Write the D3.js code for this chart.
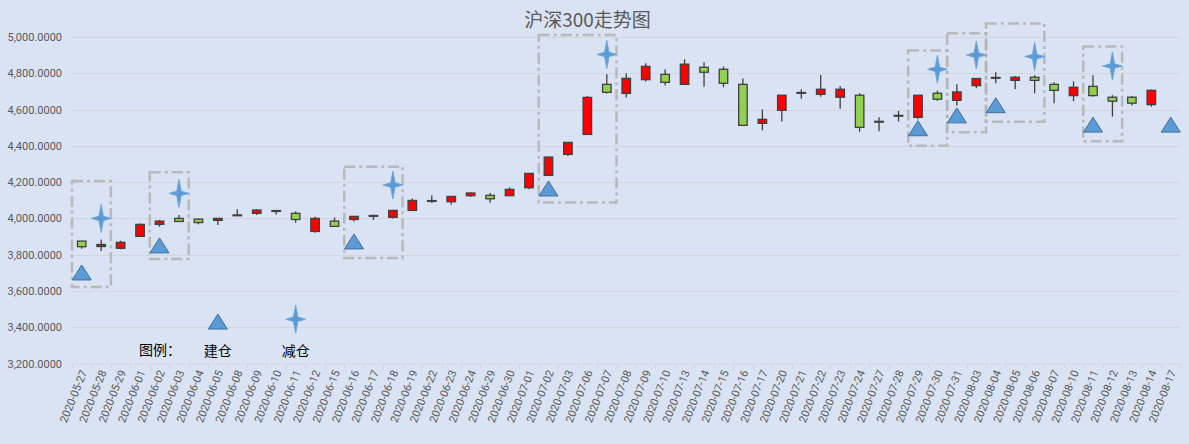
<!DOCTYPE html>
<html><head><meta charset="utf-8">
<script src="https://cdn.jsdelivr.net/npm/d3@7/dist/d3.min.js"></script>
<style>body{margin:0;background:#dae3f3;}svg{display:block}</style>
</head><body>
<svg id="chart" width="1189" height="444"></svg>
<script>
const title = "沪深300走势图";
const dates = ["2020-05-27","2020-05-28","2020-05-29","2020-06-01","2020-06-02","2020-06-03","2020-06-04","2020-06-05","2020-06-08","2020-06-09","2020-06-10","2020-06-11","2020-06-12","2020-06-15","2020-06-16","2020-06-17","2020-06-18","2020-06-19","2020-06-22","2020-06-23","2020-06-24","2020-06-29","2020-06-30","2020-07-01","2020-07-02","2020-07-03","2020-07-06","2020-07-07","2020-07-08","2020-07-09","2020-07-10","2020-07-13","2020-07-14","2020-07-15","2020-07-16","2020-07-17","2020-07-20","2020-07-21","2020-07-22","2020-07-23","2020-07-24","2020-07-27","2020-07-28","2020-07-29","2020-07-30","2020-07-31","2020-08-03","2020-08-04","2020-08-05","2020-08-06","2020-08-07","2020-08-10","2020-08-11","2020-08-12","2020-08-13","2020-08-14","2020-08-17"];
const openV  = [3875,3845,3835,3901,3967,4000,3996,3989,4016,4028,4043,4028,3928,3985,3994,4013,4006,4044,4095,4092,4125,4127,4125,4169,4237,4353,4463,4739,4689,4765,4794,4739,4833,4822,4739,4524,4596,4692,4684,4668,4679,4533,4566,4557,4690,4651,4732,4775,4761,4778,4739,4677,4728,4668,4668,4627,null];
const highV  = [3876,3884,3877,3972,3991,4018,4000,4002,4050,4050,4045,4039,4009,4005,4012,4016,4046,4110,4127,4122,4143,4140,4171,4250,4340,4420,4675,4794,4800,4855,4822,4877,4861,4837,4771,4601,4680,4712,4791,4730,4690,4557,4592,4680,4704,4739,4772,4805,4785,4789,4750,4756,4789,4679,4675,4710,null];
const lowV   = [3833,3820,3829,3900,3954,3982,3967,3963,4014,4018,4022,3976,3921,3954,3983,3991,4000,4043,4086,4077,4119,4086,4125,4160,4235,4344,4463,4689,4667,4754,4732,4739,4726,4723,4513,4486,4534,4660,4671,4605,4478,4480,4534,4546,4649,4623,4717,4745,4712,4690,4635,4646,4671,4561,4622,4616,null];
const closeV = [3844,3856,3868,3967,3985,3983,3977,4000,4019,4046,4040,3994,4000,3956,4011,4016,4044,4099,4098,4121,4140,4108,4160,4248,4338,4419,4667,4695,4772,4838,4750,4850,4806,4745,4513,4546,4679,4694,4712,4712,4502,4535,4568,4679,4657,4697,4771,4777,4778,4761,4706,4723,4677,4646,4635,4706,null];
const yTicks = [3200,3400,3600,3800,4000,4200,4400,4600,4800,5000];

// 建仓 markers (triangles) and 减仓 markers (stars): date + price level
const buyDates   = ["2020-05-27","2020-06-02","2020-06-16","2020-07-02","2020-07-29","2020-07-31","2020-08-04","2020-08-11","2020-08-17"];
const buyPrices  = [3702,3851,3873,4165,4497,4568,4624,4517,4517];
const sellDates  = ["2020-05-28","2020-06-03","2020-06-18","2020-07-07","2020-07-30","2020-08-03","2020-08-06","2020-08-12"];
const sellPrices = [4000,4138,4184,4904,4822,4901,4892,4840];

// highlighted ranges (dashed boxes)
const boxFrom = ["2020-05-27","2020-06-02","2020-06-16","2020-07-02","2020-07-29","2020-07-31","2020-08-04","2020-08-11"];
const boxTo   = ["2020-05-28","2020-06-03","2020-06-18","2020-07-07","2020-07-30","2020-08-03","2020-08-06","2020-08-12"];
const boxHigh = [4206,4254,4285,5011,4925,5020,5075,4947];
const boxLow  = [3622,3776,3782,4087,4401,4475,4533,4425];

// legend
const legendLabel = "图例：";
const legendBuy = {date:"2020-06-05", price:3431, text:"建仓"};
const legendSell = {date:"2020-06-11", price:3444, text:"减仓"};

const svg = d3.select("#chart");
const W = 1189, H = 444;
svg.append("rect").attr("width",W).attr("height",H).attr("fill","#dae3f3");

const x = d3.scaleBand().domain(dates).range([72, 1180.5]).padding(0);
const y = d3.scaleLinear().domain([3200,5000]).range([363.5, 37]);
const bw = x.bandwidth();
const cx = d => x(d) + bw/2;

// gridlines
svg.append("g").selectAll("line").data(yTicks.slice(1)).join("line")
  .attr("x1",72).attr("x2",1180.5)
  .attr("y1",d=>Math.round(y(d))+0.5).attr("y2",d=>Math.round(y(d))+0.5)
  .attr("stroke","#d3d6dc").attr("stroke-width",1);

// y axis labels
const yAxis = d3.axisLeft(y).tickValues(yTicks).tickFormat(d3.format(",.4f")).tickSize(0).tickPadding(10);
const gy = svg.append("g").attr("transform","translate(72,0)").call(yAxis);
gy.select(".domain").remove();
gy.selectAll("text").attr("font-family","Roboto, Lato, sans-serif").attr("font-size","11px").attr("fill","#595959");

// x axis
const xAxis = d3.axisBottom(x).tickSize(0).tickFormat(d=>d);
const gx = svg.append("g").attr("transform","translate(0,363.5)").call(xAxis);
gx.select(".domain").attr("stroke","#d3d6dc");
gx.selectAll("text")
  .attr("font-family","Roboto, Lato, sans-serif").attr("font-size","11px").attr("fill","#595959")
  .attr("text-anchor","end").attr("dy","0.35em")
  .attr("transform","translate(2,7) rotate(-68)")
  .attr("y",0).attr("x",0);
// tick marks at category boundaries
svg.append("g").selectAll("line").data(dates.concat(["__end"])).join("line")
  .attr("x1",(d,i)=> i<dates.length ? Math.round(x(d))+0.5 : 1180.5)
  .attr("x2",(d,i)=> i<dates.length ? Math.round(x(d))+0.5 : 1180.5)
  .attr("y1",363.5).attr("y2",368.5).attr("stroke","#d3d6dc");

// candles
const idx = d3.range(dates.length).filter(i=>openV[i]!=null);
const cw = 8.5;
const cg = svg.append("g");
cg.selectAll("line.wick").data(idx).join("line").attr("class","wick")
  .attr("x1",i=>cx(dates[i])).attr("x2",i=>cx(dates[i]))
  .attr("y1",i=>y(highV[i])).attr("y2",i=>y(lowV[i]))
  .attr("stroke","#404040").attr("stroke-width",1.3);
cg.selectAll("rect.body").data(idx).join("rect").attr("class","body")
  .attr("x",i=>cx(dates[i])-cw/2).attr("width",cw)
  .attr("y",i=>y(Math.max(openV[i],closeV[i])))
  .attr("height",i=>Math.max(0.8, Math.abs(y(openV[i])-y(closeV[i]))))
  .attr("fill",i=> closeV[i]>=openV[i] ? "#ff0000" : "#92d050")
  .attr("stroke","#404040").attr("stroke-width",1.3);

// dashed boxes
svg.append("g").selectAll("rect").data(d3.range(boxFrom.length)).join("rect")
  .attr("x",i=>x(boxFrom[i])).attr("width",i=>x(boxTo[i])+bw-x(boxFrom[i]))
  .attr("y",i=>y(boxHigh[i])).attr("height",i=>y(boxLow[i])-y(boxHigh[i]))
  .attr("fill","none").attr("stroke","#b4b4b4").attr("stroke-width",2.5)
  .attr("stroke-dasharray","11,4,3,4").attr("opacity",0.9);

// marker shapes
const triPath = "M0,-7.5L9.5,7.5L-9.5,7.5Z";
const starPath = "M0,-14L2.2,-2.2L9.8,0L2.2,2.2L0,14L-2.2,2.2L-9.8,0L-2.2,-2.2Z";

const mg = svg.append("g");
mg.selectAll("path.buy").data(d3.range(buyDates.length)).join("path").attr("class","buy")
  .attr("d",triPath)
  .attr("transform",i=>`translate(${cx(buyDates[i])},${y(buyPrices[i])})`)
  .attr("fill","#5b9bd5").attr("stroke","#41719c").attr("stroke-width",1);
mg.selectAll("path.sell").data(d3.range(sellDates.length)).join("path").attr("class","sell")
  .attr("d",starPath)
  .attr("transform",i=>`translate(${cx(sellDates[i])},${y(sellPrices[i])})`)
  .attr("fill","#5b9bd5").attr("stroke","#6fa6da").attr("stroke-width",1);

// legend
mg.append("path").attr("d",triPath)
  .attr("transform",`translate(${cx(legendBuy.date)},${y(legendBuy.price)})`)
  .attr("fill","#5b9bd5").attr("stroke","#41719c").attr("stroke-width",1);
mg.append("path").attr("d",starPath)
  .attr("transform",`translate(${cx(legendSell.date)},${y(legendSell.price)})`)
  .attr("fill","#5b9bd5").attr("stroke","#6fa6da").attr("stroke-width",1);
const lf = "'Noto Sans CJK SC', sans-serif";
svg.append("text").text(legendLabel).attr("x",139).attr("y",355)
  .attr("font-family",lf).attr("font-size","14px").attr("fill","#000");
svg.append("text").text(legendBuy.text).attr("x",cx(legendBuy.date)).attr("y",356).attr("text-anchor","middle")
  .attr("font-family",lf).attr("font-size","14px").attr("fill","#000");
svg.append("text").text(legendSell.text).attr("x",cx(legendSell.date)).attr("y",356).attr("text-anchor","middle")
  .attr("font-family",lf).attr("font-size","14px").attr("fill","#000");

// title
svg.append("text").text(title).attr("x",587.5).attr("y",27).attr("text-anchor","middle")
  .attr("font-family",lf).attr("font-size","19px").attr("fill","#595959");
</script>
</body></html>
